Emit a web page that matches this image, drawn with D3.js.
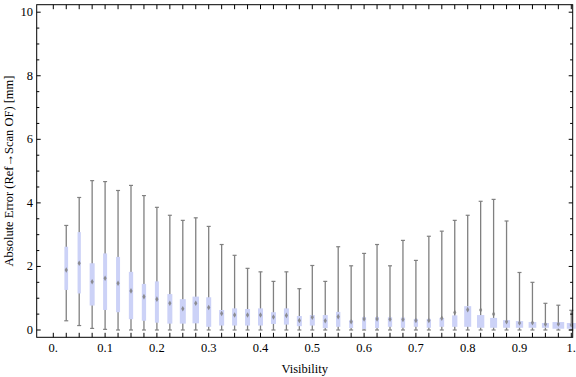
<!DOCTYPE html>
<html>
<head>
<meta charset="utf-8">
<script src="https://cdn.jsdelivr.net/npm/d3@7"></script>
<style>
  body { margin: 0; background: #fff; }
  text { font-family: "Liberation Serif", "DejaVu Serif", serif; }
</style>
</head>
<body>
<div id="chart"></div>
<script>
// Visibility bins (box positions)
const visibility = [0.025, 0.05, 0.075, 0.1, 0.125, 0.15, 0.175, 0.2, 0.225, 0.25,
  0.275, 0.3, 0.325, 0.35, 0.375, 0.4, 0.425, 0.45, 0.475, 0.5,
  0.525, 0.55, 0.575, 0.6, 0.625, 0.65, 0.675, 0.7, 0.725, 0.75,
  0.775, 0.8, 0.825, 0.85, 0.875, 0.9, 0.925, 0.95, 0.975, 1.0];

// whisker ends, quartiles and marker value [mm]
const whiskerLow = [0.29, 0.14, 0.05, 0.02, 0, 0, 0, 0, 0, 0,
  0, 0, 0, 0, 0, 0, 0, 0, 0, 0,
  0, 0, 0, 0, 0, 0, 0, 0, 0, 0,
  0, 0, 0, 0, 0, 0, 0, 0, 0, 0];
const q1 = [1.26, 1.15, 0.77, 0.63, 0.56, 0.34, 0.29, 0.23, 0.20, 0.20,
  0.21, 0.10, 0.14, 0.14, 0.14, 0.14, 0.19, 0.17, 0.12, 0.14,
  0.06, 0.10, 0.06, 0.03, 0.06, 0.10, 0.07, 0.10, 0.07, 0.10,
  0.10, 0.10, 0.07, 0.07, 0.07, 0.07, 0.07, 0.07, 0.04, 0.04];
const marker = [1.89, 2.10, 1.52, 1.63, 1.47, 1.23, 1.05, 0.97, 0.84, 0.67,
  0.84, 0.71, 0.52, 0.47, 0.47, 0.47, 0.41, 0.46, 0.30, 0.40,
  0.29, 0.42, 0.26, 0.35, 0.35, 0.34, 0.33, 0.30, 0.30, 0.37,
  0.55, 0.64, 0.63, 0.50, 0.26, 0.22, 0.23, 0.18, 0.19, 0.16];
const q3 = [2.62, 3.08, 2.10, 2.41, 2.30, 1.83, 1.45, 1.53, 1.13, 0.97,
  1.05, 1.03, 0.63, 0.68, 0.66, 0.68, 0.56, 0.68, 0.44, 0.47,
  0.47, 0.57, 0.31, 0.41, 0.41, 0.40, 0.39, 0.35, 0.35, 0.38,
  0.46, 0.75, 0.47, 0.38, 0.31, 0.28, 0.25, 0.22, 0.25, 0.22];
const whiskerHigh = [3.29, 4.17, 4.70, 4.67, 4.39, 4.55, 4.23, 3.86, 3.61, 3.45,
  3.53, 3.26, 2.69, 2.35, 1.94, 1.83, 1.53, 1.83, 1.30, 2.03,
  1.53, 2.62, 2.02, 2.41, 2.69, 2.02, 2.82, 2.19, 2.95, 3.11,
  3.45, 3.61, 4.05, 4.11, 3.43, 1.81, 1.50, 0.84, 0.78, 0.62];
// relative box weight (drawn as box width)
const weight = [3.7, 3.3, 5, 4, 4, 4.3, 4.3, 4, 5, 6,
  6.5, 5, 5, 5, 5, 5, 5, 5, 5, 5,
  5, 4.3, 4, 4, 4, 4.3, 4.3, 4.3, 4.3, 4.7,
  5.3, 7, 7.3, 7, 7, 7.3, 7.7, 7, 11.7, 9];

const xTickValues = [0, 0.1, 0.2, 0.3, 0.4, 0.5, 0.6, 0.7, 0.8, 0.9, 1.0];
const xTickLabels = ["0.", "0.1", "0.2", "0.3", "0.4", "0.5", "0.6", "0.7", "0.8", "0.9", "1."];
const yTickValues = [0, 2, 4, 6, 8, 10];

const W = 576, H = 377;
const frame = { left: 36.7, right: 572.7, top: 4.7, bottom: 337.3 };

const svg = d3.select("#chart").append("svg")
  .attr("width", W).attr("height", H);

const x = d3.scaleLinear().domain([0, 1]).range([53.3, 571.3]);
const y = d3.scaleLinear().domain([0, 10]).range([330, 12.2]);
const wScale = d3.scaleLinear().domain([0, 1]).range([0, 1]);

const minorX = d3.range(0, 1.0001, 0.025);
const minorY = d3.range(0, 10.0001, 0.5);

const data = visibility.map((v, i) => ({
  v, lo: whiskerLow[i], q1: q1[i], m: marker[i], q3: q3[i], hi: whiskerHigh[i], w: weight[i]
}));

// whiskers
const g = svg.append("g");
g.selectAll("line.whisker").data(data).enter().append("line")
  .attr("x1", d => x(d.v)).attr("x2", d => x(d.v))
  .attr("y1", d => y(d.lo)).attr("y2", d => y(d.hi))
  .attr("stroke", "#808080").attr("stroke-width", 1.3);
g.selectAll("line.capHi").data(data).enter().append("line")
  .attr("x1", d => x(d.v) - 2).attr("x2", d => x(d.v) + 2)
  .attr("y1", d => y(d.hi)).attr("y2", d => y(d.hi))
  .attr("stroke", "#808080").attr("stroke-width", 1.2);
g.selectAll("line.capLo").data(data).enter().append("line")
  .attr("x1", d => x(d.v) - 2).attr("x2", d => x(d.v) + 2)
  .attr("y1", d => y(d.lo)).attr("y2", d => y(d.lo))
  .attr("stroke", "#808080").attr("stroke-width", 1.2);

// boxes
g.selectAll("rect").data(data).enter().append("rect")
  .attr("x", d => x(d.v) - wScale(d.w) / 2)
  .attr("width", d => wScale(d.w))
  .attr("y", d => y(d.q3))
  .attr("height", d => y(d.q1) - y(d.q3))
  .attr("fill", "#ccd2f7");

// markers
g.selectAll("path.mk").data(data).enter().append("path")
  .attr("d", d => {
    const cx = x(d.v), cy = y(d.m);
    return `M${cx},${cy - 2.8}L${cx + 1.6},${cy}L${cx},${cy + 2.8}L${cx - 1.6},${cy}Z`;
  })
  .attr("fill", "#7f7f7f").attr("opacity", 0.85);

// frame
svg.append("rect")
  .attr("x", frame.left).attr("y", frame.top)
  .attr("width", frame.right - frame.left).attr("height", frame.bottom - frame.top)
  .attr("fill", "none").attr("stroke", "#000").attr("stroke-width", 1);

// bottom and top ticks
const tk = svg.append("g").attr("stroke", "#000").attr("stroke-width", 1);
tk.selectAll("line.bt").data(minorX).enter().append("line")
  .attr("x1", d => x(d)).attr("x2", d => x(d))
  .attr("y1", frame.bottom).attr("y2", frame.bottom - 4.5);
tk.selectAll("line.tp").data(minorX).enter().append("line")
  .attr("x1", d => x(d)).attr("x2", d => x(d))
  .attr("y1", frame.top).attr("y2", frame.top + 4.5);
// left and right ticks
tk.selectAll("line.lf").data(minorY).enter().append("line")
  .attr("x1", frame.left).attr("x2", d => frame.left + (d % 2 === 0 ? 4 : 2.6))
  .attr("y1", d => y(d)).attr("y2", d => y(d));
tk.selectAll("line.rt").data(minorY).enter().append("line")
  .attr("x1", frame.right).attr("x2", d => frame.right - (d % 2 === 0 ? 4 : 2.6))
  .attr("y1", d => y(d)).attr("y2", d => y(d));

// tick labels
svg.append("g").selectAll("text").data(xTickValues).enter().append("text")
  .attr("x", d => x(d)).attr("y", 352)
  .attr("text-anchor", "middle").attr("font-size", 12.5)
  .text((d, i) => xTickLabels[i]);
svg.append("g").selectAll("text").data(yTickValues).enter().append("text")
  .attr("x", 33).attr("y", d => y(d) + 4)
  .attr("text-anchor", "end").attr("font-size", 12.5)
  .text(d => d);

// axis titles
svg.append("text")
  .attr("x", (frame.left + frame.right) / 2).attr("y", 372.5)
  .attr("text-anchor", "middle").attr("font-size", 12.5)
  .text("Visibility");
svg.append("text")
  .attr("transform", `translate(13, ${(frame.top + frame.bottom) / 2}) rotate(-90)`)
  .attr("text-anchor", "middle").attr("font-size", 12.5)
  .text("Absolute Error (Ref\u2192Scan OF) [mm]");
</script>
</body>
</html>
